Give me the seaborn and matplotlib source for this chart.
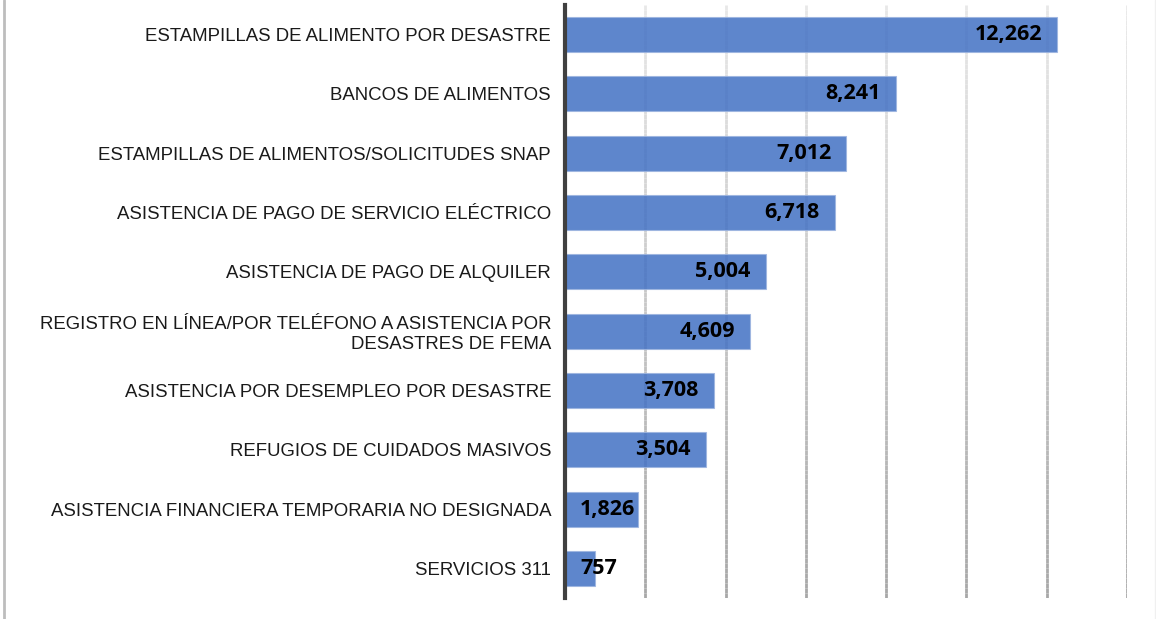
import numpy as np
import pandas as pd
import matplotlib
matplotlib.use("Agg")
import matplotlib.pyplot as plt
from matplotlib.collections import LineCollection
from matplotlib.colors import LinearSegmentedColormap
from matplotlib.lines import Line2D
import seaborn as sns

categories = [
    "ESTAMPILLAS DE ALIMENTO POR DESASTRE",
    "BANCOS DE ALIMENTOS",
    "ESTAMPILLAS DE ALIMENTOS/SOLICITUDES SNAP",
    "ASISTENCIA DE PAGO DE SERVICIO ELÉCTRICO",
    "ASISTENCIA DE PAGO DE ALQUILER",
    "REGISTRO EN LÍNEA/POR TELÉFONO A ASISTENCIA POR\nDESASTRES DE FEMA",
    "ASISTENCIA POR DESEMPLEO POR DESASTRE",
    "REFUGIOS DE CUIDADOS MASIVOS",
    "ASISTENCIA FINANCIERA TEMPORARIA NO DESIGNADA",
    "SERVICIOS 311",
]
values = [12262, 8241, 7012, 6718, 5004, 4609, 3708, 3504, 1826, 757]
x_ticks = [0, 2000, 4000, 6000, 8000, 10000, 12000, 14000]

df = pd.DataFrame({"categoria": categories, "valor": values})

sns.set_theme(style="white")
plt.rcParams["font.family"] = ["Liberation Sans", "DejaVu Sans"]

fig = plt.figure(figsize=(11.56, 6.19), dpi=100)
ax = fig.add_axes([565 / 1156, 1 - 598 / 619, (1127 - 565) / 1156, 593 / 619])

# vertical gridlines that fade from light at the top to darker at the bottom
n_seg = 120
grid_cmap = LinearSegmentedColormap.from_list("fade", ["#e8e8e8", "#a8a8a8"])
ys = np.linspace(-0.5, len(categories) - 0.5, n_seg + 1)
segs, cols = [], []
for t in x_ticks[1:]:
    for i in range(n_seg):
        segs.append([(t, ys[i]), (t, ys[i + 1])])
        cols.append(grid_cmap(i / (n_seg - 1)))
ax.add_collection(LineCollection(segs, colors=cols, linewidths=2.0, zorder=0))

sns.barplot(data=df, y="categoria", x="valor", orient="h", color="#4472C4",
            width=0.59, ax=ax, zorder=2, saturation=1)
for p in ax.patches:
    p.set_alpha(0.86)
    p.set_edgecolor("#9db5e0")
    p.set_linewidth(0.8)

ax.set_xlim(0, 14000)
ax.set_ylim(len(categories) - 0.5, -0.5)
ax.set_xticks(x_ticks)
ax.set_xticklabels([])
ax.set_xlabel("")
ax.set_ylabel("")
ax.tick_params(axis="y", length=0, pad=10, labelsize=13.4, labelcolor="#1a1a1a")
ax.tick_params(axis="x", length=0)
for lbl in ax.get_yticklabels():
    lbl.set_horizontalalignment("right")
    lbl.set_multialignment("right")
    lbl.set_linespacing(1.2)

for s in ["top", "right", "bottom"]:
    ax.spines[s].set_visible(False)
ax.spines["left"].set_color("#404040")
ax.spines["left"].set_linewidth(3)
ax.spines["left"].set_zorder(5)

# value labels at the inner end of each bar; a label that would run past the
# axis is pinned to the start of the bar instead
label_font = dict(fontsize=15.5, fontweight="bold", color="black",
                  family=["Open Sans", "DejaVu Sans"], va="center", zorder=6)
fig.canvas.draw()
renderer = fig.canvas.get_renderer()
axis_x0 = ax.transData.transform((0, 0))[0]
for i, v in enumerate(values):
    txt = f"{v:,}"
    ann = ax.annotate(txt, xy=(v, i), xytext=(-11, 0), textcoords="offset points",
                      ha="right", **label_font)
    bbox = ann.get_window_extent(renderer)
    if bbox.x0 < axis_x0 + 15:
        ann.remove()
        ax.annotate(txt, xy=(0, i), xytext=(11, 0), textcoords="offset points",
                    ha="left", **label_font)

# figure frame edges
fig.add_artist(Line2D([3.5 / 1156, 3.5 / 1156], [0, 1], transform=fig.transFigure,
                      color="#bdbdbd", linewidth=2))
fig.add_artist(Line2D([1154.5 / 1156, 1154.5 / 1156], [0, 1], transform=fig.transFigure,
                      color="#f0f0f0", linewidth=1))

fig.savefig("out.png", dpi=100)
